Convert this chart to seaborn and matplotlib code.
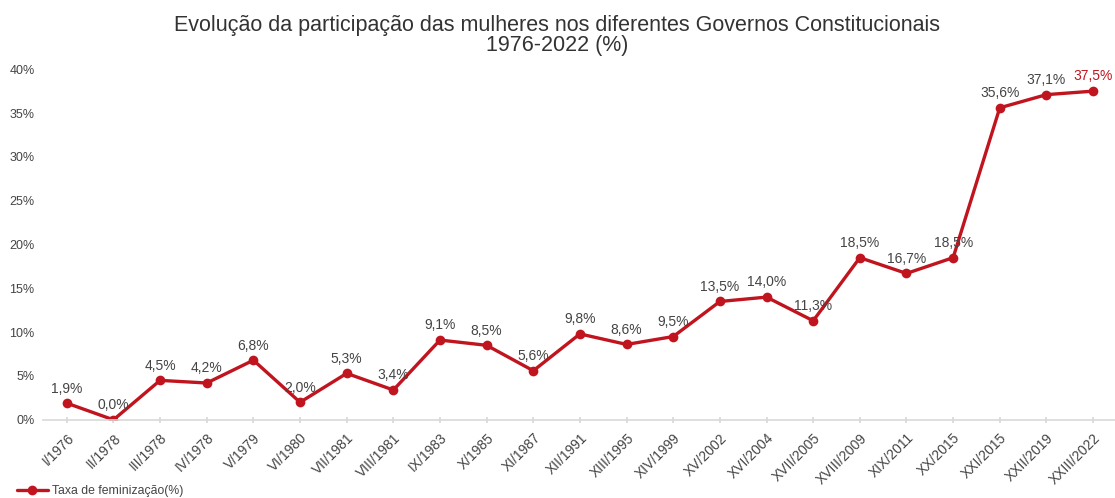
import matplotlib
matplotlib.use("Agg")
import matplotlib.pyplot as plt
import seaborn as sns
import pandas as pd

governos = ["I/1976", "II/1978", "III/1978", "IV/1978", "V/1979", "VI/1980", "VII/1981",
            "VIII/1981", "IX/1983", "X/1985", "XI/1987", "XII/1991", "XIII/1995", "XIV/1999",
            "XV/2002", "XVI/2004", "XVII/2005", "XVIII/2009", "XIX/2011", "XX/2015",
            "XXI/2015", "XXII/2019", "XXIII/2022"]
taxa = [1.9, 0.0, 4.5, 4.2, 6.8, 2.0, 5.3, 3.4, 9.1, 8.5, 5.6, 9.8, 8.6, 9.5,
        13.5, 14.0, 11.3, 18.5, 16.7, 18.5, 35.6, 37.1, 37.5]
y_ticks = [0, 5, 10, 15, 20, 25, 30, 35, 40]

sns.set_theme(style="white")
plt.rcParams["font.family"] = ["Liberation Sans", "DejaVu Sans"]

RED = "#c0151f"
TXT = "#444444"

df = pd.DataFrame({"pos": range(len(governos)), "taxa": taxa})

fig = plt.figure(figsize=(11.15, 4.98), dpi=100)
ax = fig.add_axes([0.039, 0.157, 0.961, 0.704])

sns.lineplot(data=df, x="pos", y="taxa", ax=ax, color=RED, linewidth=2.4,
             marker="o", markersize=7, markeredgewidth=0, label="Taxa de feminização(%)",
             legend=False)

for i, v in enumerate(taxa):
    lab = f"{v:.1f}%".replace(".", ",")
    col = RED if i == len(taxa) - 1 else TXT
    ax.annotate(lab, (i, v), xytext=(0, 5.5), textcoords="offset points",
                ha="center", va="bottom", fontsize=10, color=col, clip_on=False)

ax.set_xlim(-0.5, 22.47)
ax.set_ylim(0, 40)
ax.set_yticks(y_ticks)
ax.set_yticklabels([f"{t}%" for t in y_ticks], fontsize=9, color=TXT)
ax.set_xticks(range(len(governos)))
ax.set_xticklabels(governos, rotation=45, ha="right", rotation_mode="anchor",
                   fontsize=10, color=TXT)
ax.tick_params(axis="x", which="both", bottom=True, length=4, direction="inout",
               color="#d9d9d9", pad=6)
ax.tick_params(axis="y", length=0, pad=6.5)
for s in ["top", "right", "left"]:
    ax.spines[s].set_visible(False)
ax.spines["bottom"].set_color("#d9d9d9")
ax.spines["bottom"].set_linewidth(1.2)
ax.set_xlabel("")
ax.set_ylabel("")
ax.grid(False)

fig.text(0.5, 0.948, "Evolução da participação das mulheres nos diferentes Governos Constitucionais",
         ha="center", va="center", fontsize=15.5, color="#333333")
fig.text(0.5, 0.908, "1976-2022 (%)", ha="center", va="center", fontsize=15.5, color="#333333")

h, l = ax.get_legend_handles_labels()
fig.legend(h, l, loc="lower left", bbox_to_anchor=(0.005, -0.02), frameon=False,
           fontsize=8.8, handlelength=2.6, handletextpad=0.3, labelcolor=TXT)

fig.savefig("out.png", dpi=100)
